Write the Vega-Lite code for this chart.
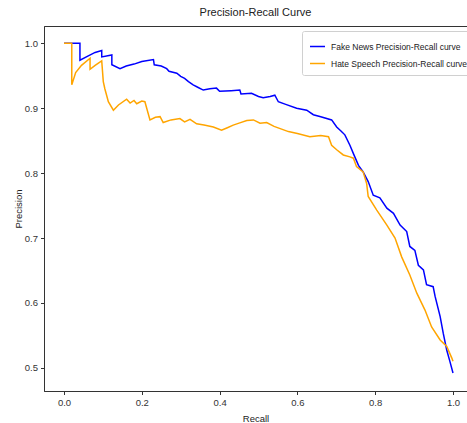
{
  "$schema": "https://vega.github.io/schema/vega-lite/v6.json",
  "width": 423,
  "height": 365,
  "autosize": {"type": "none"},
  "padding": {"left": 44, "top": 26, "right": 0, "bottom": 32},
  "background": "white",
  "config": {
    "font": "Liberation Sans",
    "view": {"stroke": "#333", "strokeWidth": 1},
    "axis": {
      "grid": false,
      "domainColor": "#333",
      "tickColor": "#333",
      "tickSize": 3.5,
      "labelFontSize": 9.5,
      "labelColor": "#333",
      "titleFontSize": 9.5,
      "titleFontWeight": "normal",
      "titleColor": "#222",
      "labelPadding": 3
    }
  },
  "title": {"text": "Precision-Recall Curve", "fontSize": 11, "fontWeight": "normal", "color": "#222", "offset": 8, "anchor": "middle"},
  "data": {"values": [
    {"s": "Fake News Precision-Recall curve", "i": 0, "r": 0, "p": 1.0},
    {"s": "Fake News Precision-Recall curve", "i": 1, "r": 0.041, "p": 1.0},
    {"s": "Fake News Precision-Recall curve", "i": 2, "r": 0.041, "p": 0.974},
    {"s": "Fake News Precision-Recall curve", "i": 3, "r": 0.06, "p": 0.980},
    {"s": "Fake News Precision-Recall curve", "i": 4, "r": 0.08, "p": 0.986},
    {"s": "Fake News Precision-Recall curve", "i": 5, "r": 0.097, "p": 0.989},
    {"s": "Fake News Precision-Recall curve", "i": 6, "r": 0.097, "p": 0.979},
    {"s": "Fake News Precision-Recall curve", "i": 7, "r": 0.123, "p": 0.982},
    {"s": "Fake News Precision-Recall curve", "i": 8, "r": 0.123, "p": 0.967},
    {"s": "Fake News Precision-Recall curve", "i": 9, "r": 0.144, "p": 0.961},
    {"s": "Fake News Precision-Recall curve", "i": 10, "r": 0.16, "p": 0.965},
    {"s": "Fake News Precision-Recall curve", "i": 11, "r": 0.18, "p": 0.968},
    {"s": "Fake News Precision-Recall curve", "i": 12, "r": 0.20, "p": 0.972},
    {"s": "Fake News Precision-Recall curve", "i": 13, "r": 0.23, "p": 0.975},
    {"s": "Fake News Precision-Recall curve", "i": 14, "r": 0.232, "p": 0.967},
    {"s": "Fake News Precision-Recall curve", "i": 15, "r": 0.25, "p": 0.965},
    {"s": "Fake News Precision-Recall curve", "i": 16, "r": 0.264, "p": 0.961},
    {"s": "Fake News Precision-Recall curve", "i": 17, "r": 0.27, "p": 0.957},
    {"s": "Fake News Precision-Recall curve", "i": 18, "r": 0.29, "p": 0.954},
    {"s": "Fake News Precision-Recall curve", "i": 19, "r": 0.30, "p": 0.949},
    {"s": "Fake News Precision-Recall curve", "i": 20, "r": 0.31, "p": 0.946},
    {"s": "Fake News Precision-Recall curve", "i": 21, "r": 0.32, "p": 0.941},
    {"s": "Fake News Precision-Recall curve", "i": 22, "r": 0.332, "p": 0.936},
    {"s": "Fake News Precision-Recall curve", "i": 23, "r": 0.345, "p": 0.932},
    {"s": "Fake News Precision-Recall curve", "i": 24, "r": 0.358, "p": 0.928},
    {"s": "Fake News Precision-Recall curve", "i": 25, "r": 0.375, "p": 0.930},
    {"s": "Fake News Precision-Recall curve", "i": 26, "r": 0.392, "p": 0.931},
    {"s": "Fake News Precision-Recall curve", "i": 27, "r": 0.40, "p": 0.926},
    {"s": "Fake News Precision-Recall curve", "i": 28, "r": 0.43, "p": 0.927},
    {"s": "Fake News Precision-Recall curve", "i": 29, "r": 0.452, "p": 0.928},
    {"s": "Fake News Precision-Recall curve", "i": 30, "r": 0.455, "p": 0.922},
    {"s": "Fake News Precision-Recall curve", "i": 31, "r": 0.482, "p": 0.923},
    {"s": "Fake News Precision-Recall curve", "i": 32, "r": 0.50, "p": 0.918},
    {"s": "Fake News Precision-Recall curve", "i": 33, "r": 0.512, "p": 0.916},
    {"s": "Fake News Precision-Recall curve", "i": 34, "r": 0.53, "p": 0.918},
    {"s": "Fake News Precision-Recall curve", "i": 35, "r": 0.542, "p": 0.920},
    {"s": "Fake News Precision-Recall curve", "i": 36, "r": 0.551, "p": 0.910},
    {"s": "Fake News Precision-Recall curve", "i": 37, "r": 0.57, "p": 0.906},
    {"s": "Fake News Precision-Recall curve", "i": 38, "r": 0.598, "p": 0.900},
    {"s": "Fake News Precision-Recall curve", "i": 39, "r": 0.624, "p": 0.897},
    {"s": "Fake News Precision-Recall curve", "i": 40, "r": 0.641, "p": 0.890},
    {"s": "Fake News Precision-Recall curve", "i": 41, "r": 0.66, "p": 0.887},
    {"s": "Fake News Precision-Recall curve", "i": 42, "r": 0.688, "p": 0.882},
    {"s": "Fake News Precision-Recall curve", "i": 43, "r": 0.701, "p": 0.871},
    {"s": "Fake News Precision-Recall curve", "i": 44, "r": 0.712, "p": 0.865},
    {"s": "Fake News Precision-Recall curve", "i": 45, "r": 0.722, "p": 0.859},
    {"s": "Fake News Precision-Recall curve", "i": 46, "r": 0.735, "p": 0.843},
    {"s": "Fake News Precision-Recall curve", "i": 47, "r": 0.744, "p": 0.830},
    {"s": "Fake News Precision-Recall curve", "i": 48, "r": 0.757, "p": 0.812},
    {"s": "Fake News Precision-Recall curve", "i": 49, "r": 0.769, "p": 0.802},
    {"s": "Fake News Precision-Recall curve", "i": 50, "r": 0.782, "p": 0.787},
    {"s": "Fake News Precision-Recall curve", "i": 51, "r": 0.795, "p": 0.766},
    {"s": "Fake News Precision-Recall curve", "i": 52, "r": 0.812, "p": 0.762},
    {"s": "Fake News Precision-Recall curve", "i": 53, "r": 0.83, "p": 0.746},
    {"s": "Fake News Precision-Recall curve", "i": 54, "r": 0.847, "p": 0.738},
    {"s": "Fake News Precision-Recall curve", "i": 55, "r": 0.864, "p": 0.720},
    {"s": "Fake News Precision-Recall curve", "i": 56, "r": 0.881, "p": 0.710},
    {"s": "Fake News Precision-Recall curve", "i": 57, "r": 0.889, "p": 0.687},
    {"s": "Fake News Precision-Recall curve", "i": 58, "r": 0.902, "p": 0.681},
    {"s": "Fake News Precision-Recall curve", "i": 59, "r": 0.911, "p": 0.658},
    {"s": "Fake News Precision-Recall curve", "i": 60, "r": 0.924, "p": 0.651},
    {"s": "Fake News Precision-Recall curve", "i": 61, "r": 0.932, "p": 0.628},
    {"s": "Fake News Precision-Recall curve", "i": 62, "r": 0.949, "p": 0.625},
    {"s": "Fake News Precision-Recall curve", "i": 63, "r": 0.954, "p": 0.610},
    {"s": "Fake News Precision-Recall curve", "i": 64, "r": 0.967, "p": 0.579},
    {"s": "Fake News Precision-Recall curve", "i": 65, "r": 0.975, "p": 0.553},
    {"s": "Fake News Precision-Recall curve", "i": 66, "r": 0.984, "p": 0.527},
    {"s": "Fake News Precision-Recall curve", "i": 67, "r": 0.992, "p": 0.510},
    {"s": "Fake News Precision-Recall curve", "i": 68, "r": 1.0, "p": 0.492},
    {"s": "Hate Speech Precision-Recall curve", "i": 0, "r": 0, "p": 1.0},
    {"s": "Hate Speech Precision-Recall curve", "i": 1, "r": 0.020, "p": 1.0},
    {"s": "Hate Speech Precision-Recall curve", "i": 2, "r": 0.020, "p": 0.936},
    {"s": "Hate Speech Precision-Recall curve", "i": 3, "r": 0.03, "p": 0.955},
    {"s": "Hate Speech Precision-Recall curve", "i": 4, "r": 0.045, "p": 0.966},
    {"s": "Hate Speech Precision-Recall curve", "i": 5, "r": 0.067, "p": 0.977},
    {"s": "Hate Speech Precision-Recall curve", "i": 6, "r": 0.067, "p": 0.960},
    {"s": "Hate Speech Precision-Recall curve", "i": 7, "r": 0.08, "p": 0.966},
    {"s": "Hate Speech Precision-Recall curve", "i": 8, "r": 0.097, "p": 0.973},
    {"s": "Hate Speech Precision-Recall curve", "i": 9, "r": 0.101, "p": 0.941},
    {"s": "Hate Speech Precision-Recall curve", "i": 10, "r": 0.105, "p": 0.930},
    {"s": "Hate Speech Precision-Recall curve", "i": 11, "r": 0.114, "p": 0.910},
    {"s": "Hate Speech Precision-Recall curve", "i": 12, "r": 0.127, "p": 0.897},
    {"s": "Hate Speech Precision-Recall curve", "i": 13, "r": 0.14, "p": 0.905},
    {"s": "Hate Speech Precision-Recall curve", "i": 14, "r": 0.161, "p": 0.914},
    {"s": "Hate Speech Precision-Recall curve", "i": 15, "r": 0.17, "p": 0.908},
    {"s": "Hate Speech Precision-Recall curve", "i": 16, "r": 0.18, "p": 0.912},
    {"s": "Hate Speech Precision-Recall curve", "i": 17, "r": 0.187, "p": 0.907},
    {"s": "Hate Speech Precision-Recall curve", "i": 18, "r": 0.20, "p": 0.911},
    {"s": "Hate Speech Precision-Recall curve", "i": 19, "r": 0.208, "p": 0.910},
    {"s": "Hate Speech Precision-Recall curve", "i": 20, "r": 0.221, "p": 0.882},
    {"s": "Hate Speech Precision-Recall curve", "i": 21, "r": 0.235, "p": 0.886},
    {"s": "Hate Speech Precision-Recall curve", "i": 22, "r": 0.247, "p": 0.887},
    {"s": "Hate Speech Precision-Recall curve", "i": 23, "r": 0.255, "p": 0.878},
    {"s": "Hate Speech Precision-Recall curve", "i": 24, "r": 0.275, "p": 0.882},
    {"s": "Hate Speech Precision-Recall curve", "i": 25, "r": 0.298, "p": 0.884},
    {"s": "Hate Speech Precision-Recall curve", "i": 26, "r": 0.31, "p": 0.879},
    {"s": "Hate Speech Precision-Recall curve", "i": 27, "r": 0.324, "p": 0.883},
    {"s": "Hate Speech Precision-Recall curve", "i": 28, "r": 0.341, "p": 0.876},
    {"s": "Hate Speech Precision-Recall curve", "i": 29, "r": 0.36, "p": 0.874},
    {"s": "Hate Speech Precision-Recall curve", "i": 30, "r": 0.384, "p": 0.871},
    {"s": "Hate Speech Precision-Recall curve", "i": 31, "r": 0.405, "p": 0.866},
    {"s": "Hate Speech Precision-Recall curve", "i": 32, "r": 0.42, "p": 0.870},
    {"s": "Hate Speech Precision-Recall curve", "i": 33, "r": 0.435, "p": 0.874},
    {"s": "Hate Speech Precision-Recall curve", "i": 34, "r": 0.45, "p": 0.877},
    {"s": "Hate Speech Precision-Recall curve", "i": 35, "r": 0.470, "p": 0.881},
    {"s": "Hate Speech Precision-Recall curve", "i": 36, "r": 0.487, "p": 0.882},
    {"s": "Hate Speech Precision-Recall curve", "i": 37, "r": 0.504, "p": 0.877},
    {"s": "Hate Speech Precision-Recall curve", "i": 38, "r": 0.521, "p": 0.878},
    {"s": "Hate Speech Precision-Recall curve", "i": 39, "r": 0.54, "p": 0.872},
    {"s": "Hate Speech Precision-Recall curve", "i": 40, "r": 0.577, "p": 0.864},
    {"s": "Hate Speech Precision-Recall curve", "i": 41, "r": 0.60, "p": 0.861},
    {"s": "Hate Speech Precision-Recall curve", "i": 42, "r": 0.632, "p": 0.856},
    {"s": "Hate Speech Precision-Recall curve", "i": 43, "r": 0.66, "p": 0.858},
    {"s": "Hate Speech Precision-Recall curve", "i": 44, "r": 0.680, "p": 0.856},
    {"s": "Hate Speech Precision-Recall curve", "i": 45, "r": 0.688, "p": 0.843},
    {"s": "Hate Speech Precision-Recall curve", "i": 46, "r": 0.701, "p": 0.836},
    {"s": "Hate Speech Precision-Recall curve", "i": 47, "r": 0.718, "p": 0.828},
    {"s": "Hate Speech Precision-Recall curve", "i": 48, "r": 0.735, "p": 0.825},
    {"s": "Hate Speech Precision-Recall curve", "i": 49, "r": 0.744, "p": 0.823},
    {"s": "Hate Speech Precision-Recall curve", "i": 50, "r": 0.752, "p": 0.810},
    {"s": "Hate Speech Precision-Recall curve", "i": 51, "r": 0.769, "p": 0.802},
    {"s": "Hate Speech Precision-Recall curve", "i": 52, "r": 0.778, "p": 0.784},
    {"s": "Hate Speech Precision-Recall curve", "i": 53, "r": 0.782, "p": 0.764},
    {"s": "Hate Speech Precision-Recall curve", "i": 54, "r": 0.804, "p": 0.743},
    {"s": "Hate Speech Precision-Recall curve", "i": 55, "r": 0.830, "p": 0.720},
    {"s": "Hate Speech Precision-Recall curve", "i": 56, "r": 0.851, "p": 0.700},
    {"s": "Hate Speech Precision-Recall curve", "i": 57, "r": 0.868, "p": 0.671},
    {"s": "Hate Speech Precision-Recall curve", "i": 58, "r": 0.889, "p": 0.643},
    {"s": "Hate Speech Precision-Recall curve", "i": 59, "r": 0.907, "p": 0.615},
    {"s": "Hate Speech Precision-Recall curve", "i": 60, "r": 0.928, "p": 0.589},
    {"s": "Hate Speech Precision-Recall curve", "i": 61, "r": 0.945, "p": 0.563},
    {"s": "Hate Speech Precision-Recall curve", "i": 62, "r": 0.967, "p": 0.543},
    {"s": "Hate Speech Precision-Recall curve", "i": 63, "r": 0.984, "p": 0.533},
    {"s": "Hate Speech Precision-Recall curve", "i": 64, "r": 0.997, "p": 0.515},
    {"s": "Hate Speech Precision-Recall curve", "i": 65, "r": 1.0, "p": 0.510}
  ]},
  "mark": {"type": "line", "strokeWidth": 1.5, "interpolate": "linear", "clip": true},
  "encoding": {
    "x": {"field": "r", "type": "quantitative",
      "scale": {"domain": [-0.0514, 1.036], "nice": false, "zero": false},
      "axis": {"title": "Recall", "values": [0, 0.2, 0.4, 0.6, 0.8, 1.0], "format": ".1f", "titlePadding": 6}},
    "y": {"field": "p", "type": "quantitative",
      "scale": {"domain": [0.4643, 1.0267], "nice": false, "zero": false},
      "axis": {"title": "Precision", "values": [0.5, 0.6, 0.7, 0.8, 0.9, 1.0], "format": ".1f", "titlePadding": 1}},
    "color": {"field": "s", "type": "nominal",
      "scale": {"domain": ["Fake News Precision-Recall curve", "Hate Speech Precision-Recall curve"], "range": ["blue", "orange"]},
      "legend": {"orient": "none", "legendX": 258, "legendY": 5, "title": null, "symbolType": "stroke", "symbolStrokeWidth": 1.5, "symbolSize": 225, "labelFontSize": 8.5, "labelColor": "#222", "labelLimit": 300, "labelOffset": 5, "fillColor": "white", "strokeColor": "#d0d0d0", "cornerRadius": 2, "padding": 7, "rowPadding": 4}},
    "order": {"field": "i", "type": "quantitative"}
  }
}
